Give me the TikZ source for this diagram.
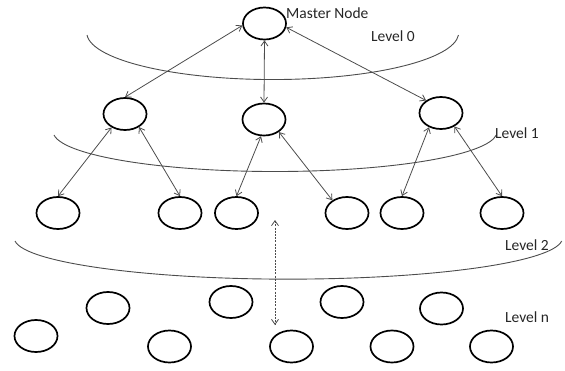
\documentclass[tikz,border=0pt]{standalone}
\usepackage{fontspec}
\setmainfont{Carlito}
\usetikzlibrary{shapes.geometric,arrows.meta}
\tikzset{
  nd/.style={ellipse,draw=black,line width=1.7pt,minimum width=43pt,minimum height=32pt,inner sep=0pt},
  lnk/.style={draw=black!70,line width=0.8pt,{Straight Barb[length=5pt,width=7pt]}-{Straight Barb[length=5pt,width=7pt]}},
  dlnk/.style={lnk,dash pattern=on 2pt off 1.2pt},
  lvl/.style={draw=black!70,line width=0.9pt},
  lbl/.style={inner sep=0pt,anchor=west,font=\fontsize{15.5}{17}\selectfont,text=black!85}
}
\begin{document}
\begin{tikzpicture}[x=1pt,y=-1pt]
\useasboundingbox (0,0) rectangle (565,370);
% level arcs
\draw[lvl] (87,35) arc[start angle=177,end angle=3,x radius=186,y radius=47];
\draw[lvl] (54,135) arc[start angle=175,end angle=5,x radius=222,y radius=40];
\draw[lvl] (15,241) arc[start angle=176,end angle=4,x radius=274,y radius=41];
% nodes
\node[nd] (m) at (264.5,23.5) {};
\node[nd] (a) at (125,114) {};
\node[nd] (b) at (264,119.5) {};
\node[nd] (c) at (441,113) {};
\node[nd] (p1) at (58,213) {};
\node[nd] (p2) at (180,213) {};
\node[nd] (p3) at (236.5,213) {};
\node[nd] (p4) at (347,213) {};
\node[nd] (p5) at (402,213) {};
\node[nd] (p6) at (502,213) {};
\node[nd] (n1) at (108,308) {};
\node[nd] (n2) at (231,302) {};
\node[nd] (n3) at (342,302) {};
\node[nd] (n4) at (441.5,308.5) {};
\node[nd] (n5) at (36,336) {};
\node[nd] (n6) at (169.5,346.5) {};
\node[nd] (n7) at (291.5,346.5) {};
\node[nd] (n8) at (392,346.5) {};
\node[nd] (n9) at (491.5,346.5) {};
% labels
\node[lbl] (t0) at (286,13) {Master Node};
\node[lbl] (t1) at (371,36) {Level 0};
\node[lbl] (t2) at (495,133) {Level 1};
\node[lbl] (t3) at (505,245) {Level 2};
\node[lbl] (t4) at (505,317) {Level n};
% connectors
\draw[lnk] (m.185) -- (a.north);
\draw[lnk] (m.south) -- (b.north);
\draw[lnk] (m.-10) -- (c.140);
\draw[lnk] (a.-135) -- (p1.north);
\draw[lnk] (a.-43) -- (p2.north);
\draw[lnk] (b.-100) -- (p3.north);
\draw[lnk] (b.-40) -- (p4.139);
\draw[lnk] (c.-130) -- (p5.north);
\draw[lnk] (c.-45) -- (p6.north);
\coordinate (d1) at (275,220);
\coordinate (d2) at (275,325);
\draw[dlnk] (d1) -- (d2);
\end{tikzpicture}
\end{document}
